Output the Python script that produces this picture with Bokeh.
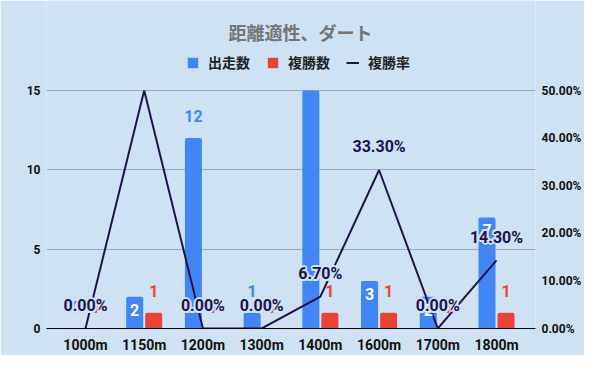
from bokeh.plotting import figure
from bokeh.models import (ColumnDataSource, FactorRange, Range1d, LinearAxis, FixedTicker,
                          PrintfTickFormatter, Legend, LegendItem, Label)
from bokeh.transform import dodge
from bokeh.core.properties import value
from bokeh.embed import file_html
from bokeh.resources import INLINE

# ---- data ----
categories = ["1000m", "1150m", "1200m", "1300m", "1400m", "1600m", "1700m", "1800m"]
starts = [0, 2, 12, 1, 15, 3, 2, 7]          # 出走数
places = [0, 1, 0, 0, 1, 1, 0, 1]            # 複勝数
place_rate = [0.0, 50.0, 0.0, 0.0, 6.7, 33.3, 0.0, 14.3]   # 複勝率 (%)
left_ticks = [0, 5, 10, 15]
right_ticks = [0, 10, 20, 30, 40, 50]
starts_label_inside = [False, True, False, False, False, True, True, True]
title_text = "距離適性、ダート"

BG = "#cfe2f3"
BLUE = "#4285f4"
RED = "#ea4335"
NAVY = "#20124d"

# ---- layout (pixels) ----
W, H = 584, 355
FL, FR = 46, 535          # frame left / right
Y_ZERO, Y_TOP_TICK = 328, 90
left_max = max(left_ticks)
right_max = max(right_ticks)
y_end = left_max * Y_ZERO / (Y_ZERO - Y_TOP_TICK)          # frame reaches the top of the canvas
r_end = right_max * Y_ZERO / (Y_ZERO - Y_TOP_TICK)

pad = 0.041
n = len(categories)
x_start = -n * pad / 2
x_span = n * (1 + pad)
def px_to_x(px):
    return x_start + (px - FL) / (FR - FL) * x_span
def px_to_y(py):
    return y_end * (Y_ZERO - py) / Y_ZERO

src = ColumnDataSource(dict(
    cat=categories, starts=starts, places=places, rate=place_rate,
))
# labels only for values inside the axis range (others are hidden in the reference)
ab = [i for i in range(n) if not starts_label_inside[i] and starts[i] < left_max]
ins = [i for i in range(n) if starts_label_inside[i]]
src_ab = ColumnDataSource(dict(cat=[categories[i] for i in ab], y=[starts[i] for i in ab],
                               t=[str(starts[i]) for i in ab]))
src_in = ColumnDataSource(dict(cat=[categories[i] for i in ins], y=[starts[i] for i in ins],
                               t=[str(starts[i]) for i in ins]))
src_pl = ColumnDataSource(dict(cat=categories, y=places, t=[str(v) for v in places]))
rl = [i for i in range(n) if place_rate[i] < right_max]
src_rl = ColumnDataSource(dict(cat=[categories[i] for i in rl], y=[place_rate[i] for i in rl],
                               t=[f"{place_rate[i]:.2f}%" for i in rl]))

p = figure(width=W, height=H, output_backend="svg", toolbar_location=None, title=None,
           x_range=FactorRange(factors=categories, range_padding=pad),
           y_range=Range1d(0, y_end),
           min_border_left=FL, min_border_right=W - FR, min_border_top=0,
           min_border_bottom=H - Y_ZERO)
p.extra_y_ranges = {"rate": Range1d(0, r_end)}

p.background_fill_color = BG
p.border_fill_color = BG
p.outline_line_color = None

def style_axis(ax, size, standoff):
    ax.major_tick_line_color = None
    ax.minor_tick_line_color = None
    ax.major_tick_out = 0
    ax.major_tick_in = 0
    ax.minor_tick_out = 0
    ax.minor_tick_in = 0
    ax.major_label_text_font = "Roboto"
    ax.major_label_text_font_style = "bold"
    ax.major_label_text_font_size = size
    ax.major_label_text_color = "#111111"
    ax.major_label_standoff = standoff

# axes
for ax in p.xaxis:
    style_axis(ax, "14px", 8)
    ax.axis_line_color = "black"
    ax.axis_line_width = 1

for ax in p.yaxis:
    style_axis(ax, "12px", 6)
    ax.ticker = FixedTicker(ticks=left_ticks)
    ax.axis_line_color = None

ra = LinearAxis(y_range_name="rate", ticker=FixedTicker(ticks=right_ticks),
                formatter=PrintfTickFormatter(format="%.2f%%"))
style_axis(ra, "12px", 6)
ra.axis_line_color = None
p.add_layout(ra, "right")

p.xgrid.grid_line_color = None
p.ygrid.ticker = FixedTicker(ticks=[t for t in left_ticks if t > 0])
p.ygrid.grid_line_color = "#9ea8b3"
p.ygrid.grid_line_width = 1

# bars
off = 0.162
bw = 0.29
r_starts = p.vbar(x=dodge("cat", -off, range=p.x_range), top="starts", width=bw, source=src,
                  fill_color=BLUE, line_color=None, border_radius=(2, 2, 0, 0))
r_places = p.vbar(x=dodge("cat", off, range=p.x_range), top="places", width=bw, source=src,
                  fill_color=RED, line_color=None, border_radius=(2, 2, 0, 0))

# line
r_rate = p.line(x="cat", y="rate", source=src, y_range_name="rate", line_color=NAVY, line_width=2)

# bar labels
lbl_font = value("Roboto")
p.text(x=dodge("cat", -off, range=p.x_range), y="y", text="t", source=src_ab,
       text_align="center", text_baseline="bottom", y_offset=-16,
       text_font=lbl_font, text_font_size="16px", text_font_style="bold", text_color=BLUE)
p.text(x=dodge("cat", -off, range=p.x_range), y="y", text="t", source=src_in,
       text_align="center", text_baseline="top", y_offset=7,
       text_font=lbl_font, text_font_size="16px", text_font_style="bold", text_color="white")
p.text(x=dodge("cat", off, range=p.x_range), y="y", text="t", source=src_pl,
       text_align="center", text_baseline="bottom", y_offset=-16,
       text_font=lbl_font, text_font_size="16px", text_font_style="bold", text_color=RED)

# rate labels with halo
halo = [(-2, 0), (2, 0), (0, -2), (0, 2), (-1.5, -1.5), (1.5, -1.5), (-1.5, 1.5), (1.5, 1.5)]
for dx, dy in halo:
    p.text(x="cat", y="y", text="t", source=src_rl, y_range_name="rate",
           text_align="center", text_baseline="middle", x_offset=dx, y_offset=-23 + dy,
           text_font=lbl_font, text_font_size="16px", text_font_style="bold", text_color=BG)
p.text(x="cat", y="y", text="t", source=src_rl, y_range_name="rate",
       text_align="center", text_baseline="middle", y_offset=-23,
       text_font=lbl_font, text_font_size="16px", text_font_style="bold", text_color=NAVY)

# title
p.add_layout(Label(x=px_to_x(300), y=px_to_y(31), text=title_text, text_align="center",
                   text_baseline="middle", text_font="Noto Sans CJK JP", text_font_size="18px",
                   text_font_style="bold", text_color="#757575"))

# legend
legend = Legend(items=[LegendItem(label="出走数", renderers=[r_starts]),
                       LegendItem(label="複勝数", renderers=[r_places]),
                       LegendItem(label="複勝率", renderers=[r_rate])],
                orientation="horizontal", location=(140, 256),
                background_fill_alpha=0, border_line_color=None,
                glyph_width=13, glyph_height=13, label_standoff=9, spacing=16,
                padding=4, margin=0,
                label_text_font="Noto Sans CJK JP", label_text_font_size="14px",
                label_text_font_style="bold",
                label_text_color="#222222")
p.add_layout(legend, "center")

open("out.html", "w").write(file_html(p, INLINE))
